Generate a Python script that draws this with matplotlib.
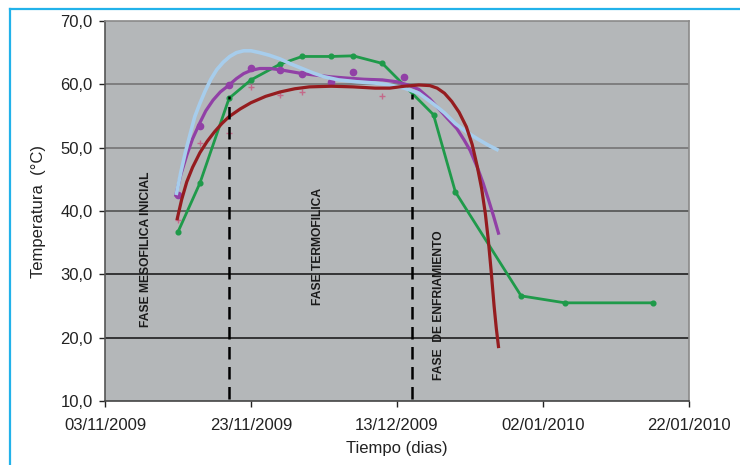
import datetime as dt
import matplotlib
matplotlib.use("Agg")
import matplotlib.pyplot as plt
import matplotlib.dates as mdates
from matplotlib.lines import Line2D

START = dt.datetime(2009, 11, 3)


def days(lst):
    return [START + dt.timedelta(days=d) for d in lst]


# pila verde: datos unidos con linea
green_days = [10, 13, 17, 20, 24, 27, 31, 34, 38, 45, 48, 57, 63, 75]
green_temp = [36.7, 44.4, 57.8, 60.7, 63.2, 64.4, 64.4, 64.5, 63.3, 55.2, 43.0, 26.6, 25.5, 25.5]

# pila roja: tendencia + medidas
red_days = [9.9, 10.5, 11.2, 12.0, 13.0, 14.0, 15.0, 16.0, 17.0, 18.5, 20.0, 22.0, 24.0,
            26.0, 28.0, 31.0, 34.0, 37.0, 39.0, 41.0, 43.0, 44.5, 45.5, 46.5, 47.5, 48.5,
            49.5, 50.3, 51.0, 51.6, 52.1, 52.5, 52.9, 53.3, 53.6, 53.9]
red_temp = [38.8, 41.8, 44.6, 46.9, 49.2, 51.0, 52.5, 53.8, 54.9, 56.1, 57.1, 58.1, 58.8,
            59.3, 59.6, 59.7, 59.6, 59.4, 59.4, 59.7, 59.9, 59.8, 59.4, 58.6, 57.3, 55.6,
            53.3, 50.5, 47.0, 43.5, 39.6, 35.5, 30.5, 25.0, 21.5, 18.6]
red_pts_days = [10, 13, 17, 20, 24, 27, 38]
red_pts_temp = [38.5, 50.7, 52.3, 59.6, 58.3, 58.8, 58.2]

# pila morada: tendencia + medidas
purple_days = [9.7, 10.4, 11.2, 12.0, 12.9, 13.8, 14.8, 15.8, 16.9, 18.0, 19.0, 20.0,
               21.2, 22.6, 24.0, 25.5, 27.0, 28.5, 30.8, 33.0, 35.5, 38.0, 40.0, 41.5,
               43.0, 44.5, 45.9, 47.0, 48.2, 49.2, 50.0, 51.0, 51.8, 52.5, 53.2, 53.9]
purple_temp = [42.5, 45.8, 48.8, 51.4, 53.7, 55.8, 57.5, 58.8, 59.8, 60.9, 61.7, 62.2,
               62.5, 62.5, 62.3, 62.0, 61.7, 61.5, 61.2, 61.0, 60.8, 60.7, 60.4, 59.9,
               59.2, 57.7, 55.9, 54.5, 53.0, 51.2, 49.6, 46.9, 44.4, 41.9, 39.3, 36.5]
purple_pts_days = [10, 13, 17, 20, 24, 27, 31, 34, 41]
purple_pts_temp = [42.5, 53.4, 59.9, 62.5, 62.3, 61.6, 60.4, 61.9, 61.2]

# pila azul: tendencia
blue_days = [9.8, 10.4, 11.0, 11.7, 12.3, 13.0, 13.7, 14.5, 15.3, 16.2, 17.1, 18.0,
             19.0, 20.0, 21.2, 22.5, 24.0, 25.5, 27.0, 28.5, 30.0, 32.0, 34.5, 37.0,
             39.0, 41.0, 43.0, 45.0, 46.5, 48.0, 49.5, 51.0, 52.5, 53.7]
blue_temp = [42.8, 46.2, 49.2, 52.3, 54.9, 57.0, 58.9, 60.8, 62.3, 63.5, 64.4, 65.0,
             65.3, 65.3, 65.0, 64.6, 64.0, 63.2, 62.5, 61.8, 61.2, 60.7, 60.4, 60.2,
             59.9, 59.4, 58.6, 56.9, 55.5, 53.8, 52.5, 51.4, 50.4, 49.7]

# limites de fase
phase_days = [17, 42]
phase_top = [58.2, 58.4]
phase_labels = ["FASE MESOFILICA INICIAL", "FASE TERMOFILICA", "FASE  DE ENFRIAMIENTO"]
phase_label_days = [5.6, 29.2, 45.75]
phase_label_temp = [33.9, 34.4, 25.1]

tick_days = [0, 20, 40, 60, 80]
y_ticks = [10, 20, 30, 40, 50, 60, 70]
grid_colors = {20: "#111111", 30: "#111111", 40: "#4a4a4a", 50: "#6f6f6f", 60: "#6f6f6f"}

plt.rcParams["font.family"] = ["Liberation Sans", "DejaVu Sans"]

fig = plt.figure(figsize=(7.4, 4.65), dpi=100)
ax = fig.add_axes([105 / 740, 1 - 401 / 465, 584 / 740, 380 / 465])
ax.set_facecolor("#b4b7b9")

for v, c in grid_colors.items():
    ax.axhline(v, color=c, lw=1.1, zorder=1)

ax.plot(days(green_days), green_temp, color="#1f9a4a", lw=2.0, marker="o", ms=3.4, zorder=3)
ax.plot(days(purple_days), purple_temp, color="#9140a6", lw=2.3, zorder=4)
ax.plot(days(purple_pts_days), purple_pts_temp, ls="none", marker="o", ms=4.5,
        color="#9140a6", zorder=4)
ax.plot(days(blue_days), blue_temp, color="#a7cdec", lw=2.6, zorder=5)
ax.plot(days(red_pts_days), red_pts_temp, ls="none", marker="+", ms=5, mew=1,
        color="#c46a8a", zorder=4)
ax.plot(days(red_days), red_temp, color="#951c1f", lw=2.3, zorder=6)

for d, top in zip(phase_days, phase_top):
    ax.plot(days([d, d]), [10.3, top], color="black", lw=1.8, ls=(0, (5, 3)), zorder=7)

for d, t, txt in zip(phase_label_days, phase_label_temp, phase_labels):
    ax.text(days([d])[0], t, txt, rotation=90, ha="center", va="center",
            family=["Liberation Sans", "DejaVu Sans"], fontweight="bold", fontsize=8.7,
            color="#1a1a1a", zorder=8)

ax.set_xlim(days([0])[0], days([80])[0])
ax.set_ylim(10, 70)
ax.set_xticks(days(tick_days))
ax.xaxis.set_major_formatter(mdates.DateFormatter("%d/%m/%Y"))
ax.set_yticks(y_ticks)
ax.set_yticklabels([f"{v:.1f}".replace(".", ",") for v in y_ticks])
ax.tick_params(axis="both", labelsize=12, colors="#222222", length=4, width=1, pad=5)
ax.tick_params(axis="x", pad=8)

ax.spines["top"].set_color("#8a8a8a")
ax.spines["right"].set_color("#8a8a8a")
ax.spines["left"].set_color("#555555")
ax.spines["bottom"].set_color("#444444")
for s in ax.spines.values():
    s.set_linewidth(1.2)

ax.set_xlabel("Tiempo (dias)", fontsize=12, color="#222222", labelpad=6)
ax.set_ylabel("Temperatura  (°C)", fontsize=12, color="#222222", labelpad=10)

# marco azul
fig.add_artist(Line2D([10 / 740, 1], [1 - 9 / 465, 1 - 9 / 465], color="#22b2ea", lw=1.6))
fig.add_artist(Line2D([10 / 740, 10 / 740], [0, 1 - 9 / 465], color="#22b2ea", lw=1.6))

fig.savefig("out.png", dpi=100, facecolor="white")
